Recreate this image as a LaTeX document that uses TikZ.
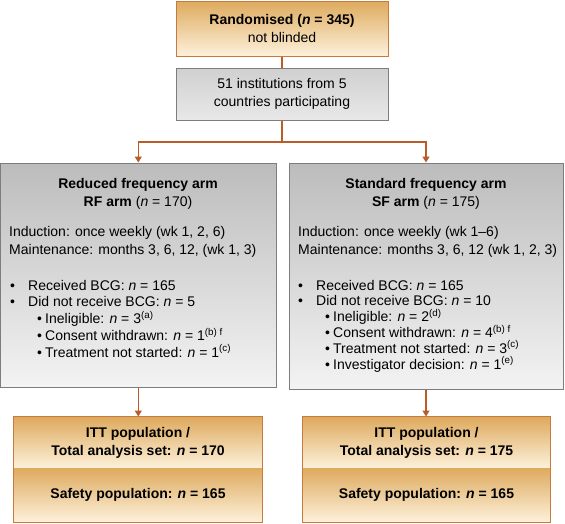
\documentclass[tikz,border=0pt]{standalone}
\usepackage{fontspec}
\setmainfont{Liberation Sans}
\usetikzlibrary{arrows.meta}
\definecolor{fcorange}{RGB}{200,122,62}
\definecolor{fcline}{RGB}{186,92,40}
\definecolor{fctan}{RGB}{222,170,94}
\definecolor{fccream}{RGB}{253,241,219}
\definecolor{fcgray}{RGB}{125,125,125}
\definecolor{fcdark}{RGB}{188,188,188}
\definecolor{fclight}{RGB}{243,243,243}
\definecolor{fcmid}{RGB}{208,208,208}
\definecolor{fcpale}{RGB}{232,232,232}
\newcommand\bul[1]{\makebox[18pt][l]{\textbullet}#1}
\newcommand\subbul[1]{\hspace*{27pt}\makebox[8pt][l]{\textbullet}#1}

\begin{document}
\begin{tikzpicture}[x=1pt, y=-1pt,
  every node/.style={font=\fontsize{14}{18}\selectfont},
  orangebox/.style={rectangle, draw=fcorange, line width=1pt,
    top color=fctan, bottom color=fccream, inner sep=0pt, align=center},
  graybox/.style={rectangle, draw=fcgray, line width=1pt,
    top color=fcdark, bottom color=fclight, inner sep=0pt, align=center},
  txt/.style={inner sep=0pt, align=left, anchor=base west},
  title/.style={inner sep=0pt, align=center, anchor=base},
  link/.style={fcline, line width=1.3pt},
  arrow/.style={link, -{Triangle[length=6pt, width=7pt]}}
]
\useasboundingbox (0,0) rectangle (565,523);

% top of the chart
\node[orangebox, minimum width=212, minimum height=55] (rand) at (282,28.5)
  {\textbf{Randomised (\textit{n} = 345)}\\not blinded};
\node[graybox, top color=fcmid, bottom color=fcpale, minimum width=212, minimum height=52]
  (inst) at (282,94) {51 institutions from 5\\countries participating};
\coordinate (split) at (282,142);

% the two arms (base = last line)
\node[graybox, minimum width=275.4, minimum height=224] (rf) at (138.3,275) {};
\node[title] (rftitle) at (138,206)
  {\textbf{Reduced frequency arm}\\\textbf{RF arm} (\textit{n} = 170)};
\node[txt] (rfsched) at (9,254)
  {Induction: once weekly (wk 1, 2, 6)\\Maintenance: months 3, 6, 12, (wk 1, 3)};
\node[txt, font=\fontsize{14}{16.8}\selectfont] (rflist) at (10,357.2)
  {\bul{Received BCG: \textit{n} = 165}\\
   \bul{Did not receive BCG: \textit{n} = 5}\\
   \subbul{Ineligible: \textit{n} = 3\textsuperscript{(a)}}\\
   \subbul{Consent withdrawn: \textit{n} = 1\textsuperscript{(b) f}}\\
   \subbul{Treatment not started: \textit{n} = 1\textsuperscript{(c)}}};

\node[graybox, minimum width=274, minimum height=226] (sf) at (426,276) {};
\node[title] (sftitle) at (426,206)
  {\textbf{Standard frequency arm}\\\textbf{SF arm} (\textit{n} = 175)};
\node[txt] (sfsched) at (298,254)
  {Induction: once weekly (wk 1--6)\\Maintenance: months 3, 6, 12 (wk 1, 2, 3)};
\node[txt, font=\fontsize{14}{15.8}\selectfont] (sflist) at (298,369)
  {\bul{Received BCG: \textit{n} = 165}\\
   \bul{Did not receive BCG: \textit{n} = 10}\\
   \subbul{Ineligible: \textit{n} = 2\textsuperscript{(d)}}\\
   \subbul{Consent withdrawn: \textit{n} = 4\textsuperscript{(b) f}}\\
   \subbul{Treatment not started: \textit{n} = 3\textsuperscript{(c)}}\\
   \subbul{Investigator decision: \textit{n} = 1\textsuperscript{(e)}}};

% populations
\node[orangebox, draw=none, font=\fontsize{14}{18}\selectfont\bfseries,
  minimum width=248, minimum height=51] (rfitt) at (138,442.5)
  {ITT population /\\Total analysis set: \textit{n} = 170};
\node[orangebox, draw=none, font=\fontsize{14}{18}\selectfont\bfseries,
  minimum width=248, minimum height=54] (rfsafe) at (138,495)
  {Safety population: \textit{n} = 165};
\draw[fcorange, line width=1pt] (rfitt.north west) rectangle (rfsafe.south east);

\node[orangebox, draw=none, font=\fontsize{14}{18}\selectfont\bfseries,
  minimum width=247, minimum height=51] (sfitt) at (426.5,442.5)
  {ITT population /\\Total analysis set: \textit{n} = 175};
\node[orangebox, draw=none, font=\fontsize{14}{18}\selectfont\bfseries,
  minimum width=247, minimum height=54] (sfsafe) at (426.5,495)
  {Safety population: \textit{n} = 165};
\draw[fcorange, line width=1pt] (sfitt.north west) rectangle (sfsafe.south east);

% connectors
\draw[link] (rand) -- (inst);
\draw[link] (inst) -- (split);
\draw[arrow] (split) -| (rf.north);
\draw[arrow] (split) -| (sf.north);
\draw[arrow] (rf.south) -- (rf.south |- rfitt.north);
\draw[arrow] (sf.south) -- (sf.south |- sfitt.north);
\end{tikzpicture}
\end{document}
